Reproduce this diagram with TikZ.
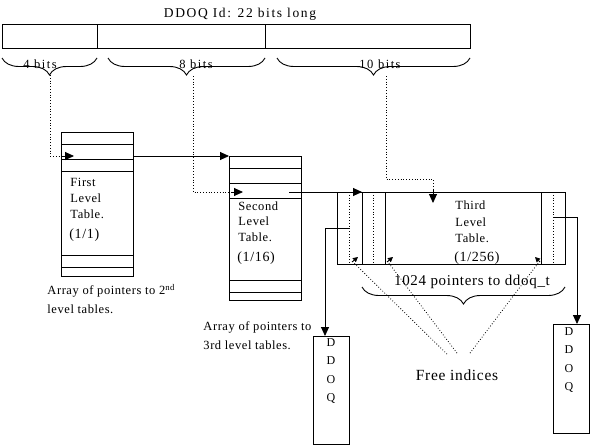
\documentclass[tikz,border=0pt]{standalone}
\usepackage{fontspec}
\setmainfont{Liberation Serif}
\newfontfamily\wideA[LetterSpace=4.5]{Liberation Serif}
\newfontfamily\wideB[LetterSpace=12]{Liberation Serif}
\usetikzlibrary{arrows.meta,decorations.pathreplacing}
\begin{document}
\begin{tikzpicture}[x=1pt,y=-1pt, line width=0.9pt,
  box/.style={draw, line width=0.9pt, inner sep=0pt, anchor=north west},
  tip/.style={-{Triangle[length=9pt,width=8pt]}},
  smalltip/.style={-{Triangle[length=5pt,width=5pt]}},
  dots/.style={dotted, line width=0.8pt},
  lbl/.style={font=\wideA\fontsize{12.5}{14}\selectfont, inner sep=0pt},
  tlbl/.style={lbl, anchor=west},
  big/.style={font=\wideA\fontsize{14}{16}\selectfont, inner sep=0pt},
  brc/.style={decorate, decoration={brace, mirror, amplitude=17pt}}
]
\useasboundingbox (0,0) rectangle (592,447);
% top bar
\node[box, minimum width=468pt, minimum height=24pt] (bar) at (2,24) {};
\draw (97,24) -- (97,48);
\draw (265,24) -- (265,48);
\node[font=\wideB\fontsize{13.5}{15}\selectfont, inner sep=0pt] (title) at (240,14) {DDOQ Id: 22 bits long};
% braces
\draw[brc] (2,58) -- (97,58);
\draw[brc] (108,58) -- (265,58);
\draw[brc] (277,58) -- (470,58);
\node[lbl, font=\wideB\fontsize{12.5}{14}\selectfont] (b4) at (40,64) {4 bits};
\node[lbl, font=\wideB\fontsize{12.5}{14}\selectfont] (b8) at (196,64) {8 bits};
\node[lbl, font=\wideB\fontsize{12.5}{14}\selectfont] (b10) at (380,64) {10 bits};
\coordinate (tip4) at (50,75);
\coordinate (tip8) at (193,76);
\coordinate (tip10) at (386,76);
% table 1
\node[box, minimum width=72pt, minimum height=144pt] (t1) at (61,132) {};
\foreach \y in {144,159,171,255,267} \draw (61,\y) -- (133,\y);
\node[tlbl] (t1a) at (70,182) {First};
\node[tlbl] (t1b) at (70,198) {Level};
\node[tlbl] (t1c) at (70,214) {Table.};
\node[big, anchor=west] (t1d) at (69,235) {(1/1)};
\node[tlbl] (c1a) at (47,291) {Array of pointers to 2\textsuperscript{nd}};
\node[tlbl] (c1b) at (47,309) {level tables.};
% table 2
\node[box, minimum width=72pt, minimum height=144pt] (t2) at (229,156) {};
\foreach \y in {168,183,198,280,292} \draw (229,\y) -- (301,\y);
\node[tlbl] (t2a) at (238,206) {Second};
\node[tlbl] (t2b) at (238,221) {Level};
\node[tlbl] (t2c) at (238,237) {Table.};
\node[big, anchor=west] (t2d) at (237,258) {(1/16)};
\node[tlbl] (c2a) at (203,327) {Array of pointers to};
\node[tlbl] (c2b) at (203,345) {3rd level tables.};
% table 3
\node[box, minimum width=228pt, minimum height=72pt] (t3) at (337,192) {};
\foreach \x in {362,385,541} \draw (\x,192) -- (\x,264);
\foreach \x in {349,373,553} \draw[dots] (\x,192) -- (\x,264);
\node[tlbl] (t3a) at (455,205) {Third};
\node[tlbl] (t3b) at (455,222) {Level};
\node[tlbl] (t3c) at (455,238) {Table.};
\node[big, anchor=west] (t3d) at (454,258) {(1/256)};
\draw[brc] (362,287) -- (565,287);
\node[big, font=\wideA\fontsize{15}{17}\selectfont] (ptr) at (472,282) {1024 pointers to ddoq\_t};
% DDOQ boxes
\node[box, minimum width=36pt, minimum height=108pt] (d1) at (313,336) {};
\node[lbl, align=center, font=\fontsize{12}{18.5}\selectfont] (d1t) at (331,371) {D\\D\\O\\Q};
\node[box, minimum width=36pt, minimum height=109pt] (d2) at (553,324) {};
\node[lbl, align=center, font=\fontsize{12}{18.5}\selectfont] (d2t) at (569,360) {D\\D\\O\\Q};
\node[font=\wideA\fontsize{15.5}{17}\selectfont, inner sep=0pt] (free) at (457,375) {Free indices};
% connectors
\draw[dots] (tip4) -- (50,156) -- (62,156);
\draw[tip] (62,156) -- (74,156);
\draw[tip] (t1.east |- 0,156) -- (t2.north west);
\draw[dots] (tip8) -- (193,192) -- (231,192);
\draw[tip] (231,192) -- (243,192);
\draw[tip] (289,192) -- (362,192);
\draw[dots] (tip10) -- (386,179) -- (433,179) -- (433,192);
\draw[tip] (433,190) -- (433,203);
\draw[tip] (349,228) -- (325,228) -- (d1.north west -| 325,0);
\draw[tip] (553,217) -- (577,217) -- (d2.north west -| 577,0);
% free indices
\draw[dots] (free.north) ++(-10,-15) coordinate (f1) -- (353,262);
\draw[dots] (free.north) ++(0,-16) coordinate (f2) -- (388,262);
\draw[dots] (free.north) ++(13,-16) coordinate (f3) -- (539,262);
\draw[smalltip] (352,262) -- (358,257);
\draw[smalltip] (387,262) -- (393,257);
\draw[smalltip] (540,262) -- (535,257);
\end{tikzpicture}
\end{document}
